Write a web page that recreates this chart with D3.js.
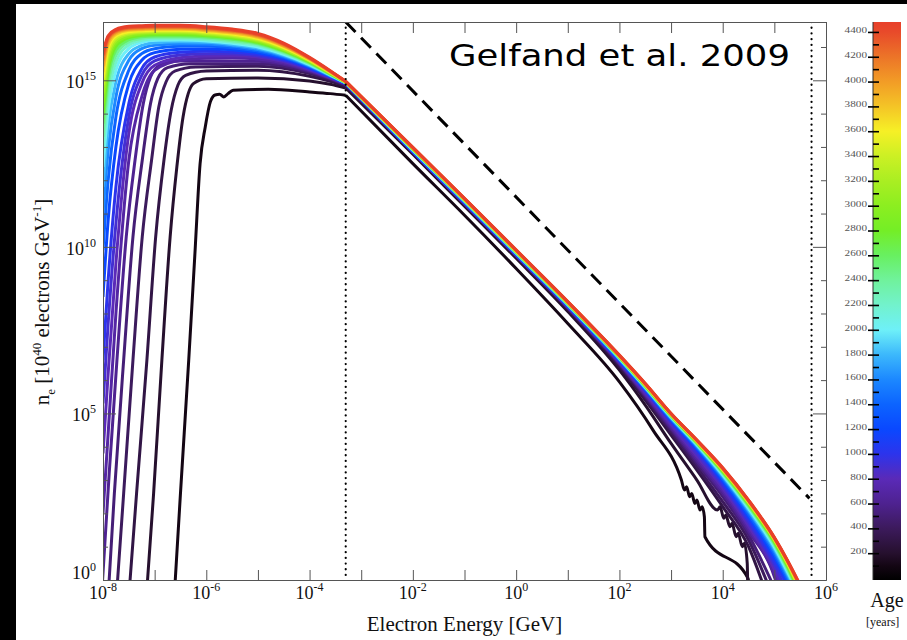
<!DOCTYPE html>
<html>
<head>
<meta charset="utf-8">
<script src="https://cdn.jsdelivr.net/npm/d3@7"></script>
<style>
  body { margin: 0; background: #fff; }
  svg { display: block; }
</style>
</head>
<body>
<svg id="chart" width="907" height="640"></svg>
<script>
// log10(E / GeV) and log10(n_e)

// young curves: the low-energy rise lies inside the plot
const YOUNG_AGES = [100, 200, 300, 400, 500, 600];
const YOUNG_LOW = [
  [[-6.62,-0.5],[-6.5,2.6],[-6.34,6.6],[-6.22,9.8],[-6.12,12.5],[-6.02,13.6],[-5.92,14.36],[-5.83,14.56],[-5.74,14.58],[-5.66,14.5],[-5.58,14.6],[-5.48,14.7],[-4.8,14.73],[-4.0,14.65],[-3.6,14.6],[-3.3,14.55]],
  [[-7.16,-0.5],[-7.02,2.6],[-6.86,6.6],[-6.7,10.3],[-6.57,12.4],[-6.45,13.9],[-6.35,14.6],[-6.25,14.9],[-6.0,15.05],[-5.0,15.07],[-4.0,14.98],[-3.6,14.88],[-3.3,14.77]],
  [[-7.5,-0.5],[-7.35,2.6],[-7.15,6.6],[-6.98,10.3],[-6.82,12.6],[-6.68,14.1],[-6.55,14.85],[-6.4,15.15],[-6.0,15.28],[-5.0,15.3],[-4.0,15.12],[-3.6,14.97],[-3.3,14.82]],
  [[-7.74,-0.5],[-7.6,2.6],[-7.42,6.6],[-7.24,10.3],[-7.06,12.6],[-6.92,14.2],[-6.78,14.95],[-6.6,15.28],[-6.2,15.4],[-5.0,15.42],[-4.0,15.2],[-3.6,15.02],[-3.3,14.85]],
  [[-7.9,-0.5],[-7.78,2.6],[-7.6,6.6],[-7.42,10.3],[-7.24,12.6],[-7.08,14.3],[-6.94,15.05],[-6.75,15.38],[-6.3,15.5],[-5.0,15.5],[-4.0,15.25],[-3.6,15.05],[-3.3,14.87]],
  [[-8.02,-0.3],[-7.88,3.2],[-7.73,6.6],[-7.55,10.3],[-7.38,12.6],[-7.22,14.3],[-7.08,15.1],[-6.9,15.45],[-6.5,15.58],[-5.0,15.57],[-4.0,15.28],[-3.6,15.06],[-3.3,14.88]]
];

// older curves: low-energy part on a shared energy grid
const LOW_E = [-8, -7.9, -7.75, -7.5, -7.25, -7.0, -6.5, -6.0, -5.5, -5.0, -4.5, -4.0, -3.6, -3.3];
const OLD_AGES = [700, 800, 900, 1000, 1200, 1400, 1600, 1800, 2000, 2200, 2400, 2600, 2800, 3000, 3200, 3400, 3600, 3800, 4000, 4200, 4400, 4500];
const OLD_LOW = [
  [2.0, 4.4, 8.0, 12.6, 14.5, 15.3, 15.6, 15.66, 15.67, 15.64, 15.52, 15.3, 15.07, 14.89],
  [3.8, 6.2, 9.5, 13.4, 14.9, 15.45, 15.68, 15.73, 15.74, 15.7, 15.56, 15.32, 15.08, 14.9],
  [5.3, 7.7, 10.7, 13.9, 15.15, 15.58, 15.76, 15.8, 15.8, 15.74, 15.59, 15.34, 15.1, 14.9],
  [6.6, 9.0, 11.8, 14.3, 15.35, 15.7, 15.84, 15.87, 15.85, 15.78, 15.62, 15.36, 15.11, 14.91],
  [8.5, 10.8, 13.0, 14.9, 15.6, 15.83, 15.93, 15.95, 15.92, 15.83, 15.66, 15.39, 15.12, 14.91],
  [9.9, 12.0, 13.9, 15.3, 15.8, 15.95, 16.02, 16.03, 15.98, 15.88, 15.69, 15.41, 15.13, 14.92],
  [11.0, 12.9, 14.5, 15.6, 15.95, 16.05, 16.1, 16.09, 16.03, 15.92, 15.72, 15.43, 15.14, 14.92],
  [11.8, 13.6, 14.95, 15.8, 16.05, 16.13, 16.16, 16.14, 16.07, 15.96, 15.75, 15.45, 15.15, 14.92],
  [12.4, 14.1, 15.3, 15.95, 16.14, 16.2, 16.21, 16.18, 16.11, 16.0, 15.78, 15.47, 15.16, 14.93],
  [12.9, 14.5, 15.55, 16.06, 16.2, 16.25, 16.25, 16.22, 16.15, 16.04, 15.81, 15.49, 15.17, 14.93],
  [13.3, 14.85, 15.75, 16.15, 16.26, 16.29, 16.29, 16.26, 16.19, 16.08, 15.84, 15.51, 15.18, 14.93],
  [13.7, 15.1, 15.9, 16.22, 16.31, 16.33, 16.33, 16.3, 16.23, 16.11, 15.87, 15.53, 15.19, 14.94],
  [14.0, 15.3, 16.02, 16.28, 16.35, 16.37, 16.37, 16.34, 16.27, 16.14, 15.89, 15.55, 15.2, 14.94],
  [14.3, 15.5, 16.12, 16.33, 16.39, 16.41, 16.41, 16.37, 16.3, 16.17, 15.92, 15.57, 15.21, 14.94],
  [14.6, 15.68, 16.2, 16.38, 16.43, 16.44, 16.44, 16.4, 16.33, 16.2, 15.94, 15.58, 15.22, 14.95],
  [14.85, 15.83, 16.27, 16.42, 16.46, 16.47, 16.47, 16.43, 16.36, 16.23, 15.97, 15.6, 15.23, 14.95],
  [15.05, 15.96, 16.33, 16.46, 16.49, 16.5, 16.5, 16.46, 16.39, 16.26, 15.99, 15.61, 15.24, 14.95],
  [15.25, 16.07, 16.38, 16.5, 16.52, 16.53, 16.53, 16.49, 16.42, 16.29, 16.02, 15.63, 15.25, 14.96],
  [15.42, 16.16, 16.43, 16.53, 16.55, 16.56, 16.56, 16.52, 16.45, 16.32, 16.04, 15.64, 15.26, 14.96],
  [15.58, 16.24, 16.47, 16.56, 16.58, 16.59, 16.59, 16.55, 16.48, 16.35, 16.07, 15.66, 15.27, 14.96],
  [15.75, 16.3, 16.5, 16.59, 16.61, 16.62, 16.62, 16.58, 16.51, 16.38, 16.09, 15.67, 15.28, 14.97],
  [15.85, 16.34, 16.53, 16.62, 16.64, 16.65, 16.65, 16.61, 16.54, 16.41, 16.12, 15.69, 15.29, 14.97]
];

// high-energy part (above the break) on a shared grid, null = below the axis
const HIGH_E = [-2, -1, 0, 1, 2, 2.5, 3, 3.5, 4, 4.5, 5, 5.25];
const HIGH_AGES = [300, 400, 500, 600, 700, 800, 900, 1000, 1200, 1400, 1600, 1800, 2000, 2200, 2400, 2600, 2800, 3000, 3200, 3400, 3600, 3800, 4000, 4200, 4400, 4500];
const HIGH_N = [
  [12.82, 11.27, 9.71, 8.13, 6.4, 5.4, 4.35, 3.3, 2.2, 1.0, null, null],
  [12.84, 11.29, 9.73, 8.16, 6.45, 5.47, 4.45, 3.4, 2.35, 1.2, null, null],
  [12.85, 11.3, 9.74, 8.17, 6.48, 5.52, 4.52, 3.5, 2.5, 1.35, null, null],
  [12.85, 11.3, 9.75, 8.18, 6.5, 5.55, 4.57, 3.58, 2.6, 1.46, 0.1, null],
  [12.85, 11.31, 9.75, 8.19, 6.52, 5.58, 4.62, 3.65, 2.68, 1.55, 0.2, null],
  [12.85, 11.31, 9.76, 8.2, 6.54, 5.62, 4.67, 3.72, 2.76, 1.63, 0.32, null],
  [12.85, 11.32, 9.76, 8.21, 6.56, 5.66, 4.72, 3.8, 2.83, 1.72, 0.44, null],
  [12.86, 11.33, 9.77, 8.22, 6.58, 5.7, 4.78, 3.9, 2.9, 1.8, 0.55, null],
  [12.87, 11.34, 9.78, 8.23, 6.6, 5.72, 4.8, 3.94, 2.98, 1.9, 0.68, null],
  [12.88, 11.35, 9.79, 8.24, 6.61, 5.74, 4.83, 3.98, 3.04, 1.98, 0.78, 0.05],
  [12.89, 11.36, 9.8, 8.25, 6.63, 5.76, 4.85, 4.01, 3.09, 2.05, 0.86, 0.13],
  [12.9, 11.37, 9.81, 8.26, 6.64, 5.77, 4.87, 4.04, 3.13, 2.1, 0.93, 0.2],
  [12.91, 11.38, 9.82, 8.27, 6.66, 5.79, 4.89, 4.06, 3.16, 2.15, 0.99, 0.26],
  [12.92, 11.39, 9.83, 8.28, 6.67, 5.8, 4.9, 4.08, 3.19, 2.19, 1.04, 0.31],
  [12.93, 11.4, 9.84, 8.29, 6.68, 5.81, 4.92, 4.1, 3.22, 2.22, 1.08, 0.36],
  [12.94, 11.41, 9.85, 8.3, 6.69, 5.82, 4.93, 4.12, 3.24, 2.25, 1.12, 0.4],
  [12.94, 11.41, 9.86, 8.31, 6.7, 5.83, 4.94, 4.13, 3.26, 2.28, 1.15, 0.44],
  [12.95, 11.42, 9.86, 8.32, 6.71, 5.84, 4.95, 4.14, 3.28, 2.3, 1.18, 0.47],
  [12.95, 11.42, 9.87, 8.32, 6.71, 5.85, 4.96, 4.15, 3.3, 2.32, 1.2, 0.5],
  [12.96, 11.43, 9.88, 8.33, 6.72, 5.86, 4.97, 4.16, 3.31, 2.34, 1.22, 0.52],
  [12.96, 11.43, 9.88, 8.33, 6.72, 5.86, 4.97, 4.17, 3.32, 2.35, 1.23, 0.54],
  [12.97, 11.44, 9.89, 8.34, 6.73, 5.87, 4.98, 4.18, 3.33, 2.36, 1.24, 0.56],
  [12.97, 11.44, 9.89, 8.34, 6.73, 5.88, 4.98, 4.18, 3.34, 2.37, 1.25, 0.57],
  [12.98, 11.45, 9.9, 8.35, 6.74, 5.89, 4.99, 4.19, 3.35, 2.38, 1.26, 0.58],
  [12.98, 11.45, 9.9, 8.35, 6.74, 5.89, 4.99, 4.2, 3.36, 2.39, 1.27, 0.59],
  [12.99, 11.46, 9.91, 8.36, 6.75, 5.9, 5.0, 4.2, 3.37, 2.4, 1.28, 0.6]
];
// energy where each of HIGH_AGES drops out of the bottom
const END_E = [4.82, 4.92, 5.02, 5.08, 5.13, 5.18, 5.23, 5.3, 5.34, 5.37, 5.39, 5.41, 5.43, 5.44, 5.45, 5.46, 5.47, 5.48, 5.49, 5.5, 5.51, 5.52, 5.53, 5.54, 5.54, 5.55];

// the two youngest have ragged tails
const TAIL_100 = [[-2,12.5],[-1,10.95],[0,9.35],[1,7.7],[2,5.95],[2.65,4.5],[3.2,3.0],[3.26,2.7],[3.3,2.8],[3.36,2.5],[3.4,2.6],[3.46,2.3],[3.5,2.4],[3.56,2.1],[3.6,2.2],[3.645,1.9],[3.655,1.3],[4.49,0.05],[4.52,-0.3]];
const TAIL_200 = [[-2,12.78],[-1,11.22],[0,9.66],[1,8.06],[2,6.3],[2.5,5.25],[3,4.1],[3.5,3.0],[3.9,2.1],[3.95,2.2],[4.02,1.85],[4.06,1.95],[4.14,1.6],[4.18,1.7],[4.26,1.3],[4.3,1.4],[4.38,1.0],[4.42,1.1],[4.475,0.5],[4.485,-0.3]];

// reference lines
const DOTTED_E = [-3.3, 5.72];
const DASH_LINE = [[-3.3, 16.75], [5.68, 2.45]];

// age colour bar
const CBAR_VALUES = [-16, 100, 200, 400, 600, 800, 1000, 1200, 1400, 1600, 1800, 2000, 2200, 2400, 2600, 2800, 3000, 3200, 3400, 3600, 3800, 4000, 4200, 4400, 4480];
const CBAR_COLORS = ["#000000", "#140614", "#26102e", "#3c1a5c", "#4e2290", "#5a2ab8", "#2c34ec", "#0a48ff", "#0c64ff", "#1c88ff", "#3cb8fc", "#6ef0f8", "#72f2cc", "#70f29c", "#68f060", "#74ee26", "#8cee20", "#aaee22", "#ccf024", "#f6f026", "#f4c426", "#f29c26", "#ec7428", "#e84a2a", "#e8402a"];

const X_TICKS = d3.range(-8, 7);
const X_LABELS = [-8, -6, -4, -2, 0, 2, 4, 6];
const Y_TICKS = d3.range(0, 17);
const Y_LABELS = [0, 5, 10, 15];

const SERIF = "'Liberation Serif', 'Times New Roman', serif";
const M = { left: 103, right: 826, top: 22, bottom: 580 };

const svg = d3.select("#chart");
const x = d3.scaleLinear().domain([-8, 6]).range([M.left, M.right]);
const y = d3.scaleLinear().domain([0, 16.75]).range([M.bottom, M.top]);
const ageColor = d3.scaleLinear().domain(CBAR_VALUES).range(CBAR_COLORS).clamp(true);

// black frame of the scan
svg.append("rect").attr("width", 16).attr("height", 640).attr("fill", "#000");
svg.append("rect").attr("width", 907).attr("height", 4).attr("fill", "#000");

const defs = svg.append("defs");
defs.append("clipPath").attr("id", "plot-clip").append("rect")
  .attr("x", M.left).attr("y", M.top)
  .attr("width", M.right - M.left).attr("height", M.bottom - M.top);

// assemble the curves; each is drawn in two pieces so the break at 5e-4 GeV stays sharp
const curves = [];
curves.push({ age: 100, low: YOUNG_LOW[0], high: YOUNG_LOW[0].slice(-1).concat(TAIL_100) });
curves.push({ age: 200, low: YOUNG_LOW[1], high: YOUNG_LOW[1].slice(-1).concat(TAIL_200) });
HIGH_AGES.forEach((age, i) => {
  let low;
  const yi = YOUNG_AGES.indexOf(age);
  if (yi >= 0) low = YOUNG_LOW[yi];
  else {
    const row = OLD_LOW[OLD_AGES.indexOf(age)];
    low = LOW_E.map((e, k) => [e, row[k]]);
  }
  const high = HIGH_E.map((e, k) => [e, HIGH_N[i][k]]).filter(d => d[1] !== null);
  curves.push({ age, low, high: low.slice(-1).concat(high, [[END_E[i], -0.3]]) });
});

const line = d3.line()
  .x(d => x(d[0]))
  .y(d => y(d[1]))
  .curve(d3.curveMonotoneX);

const plot = svg.append("g").attr("clip-path", "url(#plot-clip)");

const spec = plot.selectAll("g.spec")
  .data(curves)
  .enter().append("g")
  .attr("class", "spec")
  .attr("fill", "none")
  .attr("stroke", d => ageColor(d.age))
  .attr("stroke-width", 3)
  .attr("stroke-linejoin", "round");
spec.append("path").attr("d", d => line(d.low));
spec.append("path").attr("d", d => line(d.high));

// dotted energy limits
plot.selectAll("line.dot")
  .data(DOTTED_E)
  .enter().append("line")
  .attr("x1", d => x(d)).attr("x2", d => x(d))
  .attr("y1", M.top).attr("y2", M.bottom)
  .attr("stroke", "#000")
  .attr("stroke-width", 2.2)
  .attr("stroke-linecap", "round")
  .attr("stroke-dasharray", "0.1,5.6");

// dashed power law
plot.append("path")
  .attr("d", d3.line().x(d => x(d[0])).y(d => y(d[1]))(DASH_LINE))
  .attr("fill", "none")
  .attr("stroke", "#000")
  .attr("stroke-width", 3)
  .attr("stroke-dasharray", "14,8");

// axes
const axisStyle = g => {
  g.select(".domain").attr("stroke", "#555");
  g.selectAll(".tick line").attr("stroke", "#555");
};
svg.append("g").attr("transform", `translate(0,${M.bottom})`)
  .call(d3.axisBottom(x).tickValues(X_TICKS).tickSize(-10).tickSizeOuter(0).tickFormat(""))
  .call(axisStyle);
svg.append("g").attr("transform", `translate(0,${M.top})`)
  .call(d3.axisTop(x).tickValues(X_TICKS).tickSize(-11).tickSizeOuter(0).tickFormat(""))
  .call(axisStyle);
svg.append("g").attr("transform", `translate(${M.left},0)`)
  .call(d3.axisLeft(y).tickValues(Y_TICKS.filter(v => v % 5)).tickSize(-5).tickSizeOuter(0).tickFormat(""))
  .call(axisStyle);
svg.append("g").attr("transform", `translate(${M.left},0)`)
  .call(d3.axisLeft(y).tickValues(Y_LABELS).tickSize(-13).tickSizeOuter(0).tickFormat(""))
  .call(axisStyle);
svg.append("g").attr("transform", `translate(${M.right},0)`)
  .call(d3.axisRight(y).tickValues(Y_TICKS.filter(v => v % 5)).tickSize(-5).tickSizeOuter(0).tickFormat(""))
  .call(axisStyle);
svg.append("g").attr("transform", `translate(${M.right},0)`)
  .call(d3.axisRight(y).tickValues(Y_LABELS).tickSize(-13).tickSizeOuter(0).tickFormat(""))
  .call(axisStyle);

// power-of-ten labels
const xLab = svg.append("g").attr("font-family", SERIF).attr("fill", "#111");
X_LABELS.forEach(k => {
  const t = xLab.append("text").attr("x", x(k)).attr("y", 599)
    .attr("text-anchor", "middle").attr("font-size", 18);
  t.append("tspan").text("10");
  t.append("tspan").attr("dy", -8).attr("font-size", 12).text(k);
});
const yLab = svg.append("g").attr("font-family", SERIF).attr("fill", "#111");
Y_LABELS.forEach(k => {
  const t = yLab.append("text").attr("x", 96).attr("y", Math.min(y(k) + 8, 579))
    .attr("text-anchor", "end").attr("font-size", 18);
  t.append("tspan").text("10");
  t.append("tspan").attr("dy", -8).attr("font-size", 12).text(k);
});

// axis titles
svg.append("text")
  .attr("x", (M.left + M.right) / 2).attr("y", 631)
  .attr("text-anchor", "middle")
  .attr("font-family", SERIF).attr("font-size", 21).attr("fill", "#111")
  .text("Electron Energy [GeV]");

const yt = svg.append("text")
  .attr("transform", "translate(49,302) rotate(-90)")
  .attr("text-anchor", "middle")
  .attr("font-family", SERIF).attr("font-size", 21).attr("fill", "#111");
yt.append("tspan").text("n");
yt.append("tspan").attr("dy", 6).attr("font-size", 13).text("e");
yt.append("tspan").attr("dy", -6).text(" [10");
yt.append("tspan").attr("dy", -8).attr("font-size", 13).text("40");
yt.append("tspan").attr("dy", 8).text(" electrons GeV");
yt.append("tspan").attr("dy", -8).attr("font-size", 13).text("-1");
yt.append("tspan").attr("dy", 8).text("]");

// title
svg.append("text")
  .attr("x", 449).attr("y", 66)
  .attr("font-family", "'Comic Sans MS', 'DejaVu Sans', sans-serif")
  .attr("font-size", 31).attr("fill", "#000")
  .attr("textLength", 341).attr("lengthAdjust", "spacingAndGlyphs")
  .text("Gelfand et al.  2009");

// colour bar
const CB = { x: 873, w: 28 };
const cScale = d3.scaleLinear().domain([-16, 4480]).range([M.bottom, M.top]);
const grad = defs.append("linearGradient").attr("id", "age-grad")
  .attr("x1", 0).attr("y1", 1).attr("x2", 0).attr("y2", 0);
grad.selectAll("stop")
  .data(CBAR_VALUES)
  .enter().append("stop")
  .attr("offset", d => (d + 16) / 4496)
  .attr("stop-color", (d, i) => CBAR_COLORS[i]);

svg.append("rect")
  .attr("x", CB.x).attr("y", M.top)
  .attr("width", CB.w).attr("height", M.bottom - M.top)
  .attr("fill", "url(#age-grad)");
svg.append("line")
  .attr("x1", CB.x).attr("x2", CB.x).attr("y1", M.top).attr("y2", M.bottom)
  .attr("stroke", "#333").attr("stroke-width", 1);

const cbMinor = svg.append("g").attr("transform", `translate(${CB.x + 6},0)`)
  .call(d3.axisLeft(cScale).tickValues(d3.range(100, 4400, 200)).tickSize(6).tickFormat(""));
const cbMajor = svg.append("g").attr("transform", `translate(${CB.x + 6},0)`)
  .call(d3.axisLeft(cScale).tickValues(d3.range(200, 4401, 200)).tickSize(11).tickPadding(1).tickFormat(d3.format("d")));
[cbMinor, cbMajor].forEach(g => {
  g.select(".domain").remove();
  g.selectAll(".tick line").attr("stroke", "#000").attr("stroke-width", 1.6);
});
cbMajor.selectAll(".tick text")
  .attr("dy", "0.05em")
  .attr("font-family", SERIF)
  .attr("font-size", 9)
  .attr("fill", "#555")
  .attr("textLength", d => String(d).length * 5.6)
  .attr("lengthAdjust", "spacingAndGlyphs");

svg.append("text")
  .attr("x", 887).attr("y", 607)
  .attr("text-anchor", "middle")
  .attr("font-family", SERIF).attr("font-size", 20).attr("fill", "#111")
  .text("Age");
svg.append("text")
  .attr("x", 866).attr("y", 626)
  .attr("font-family", SERIF).attr("font-size", 12).attr("fill", "#111")
  .text("[years]");
</script>
</body>
</html>
